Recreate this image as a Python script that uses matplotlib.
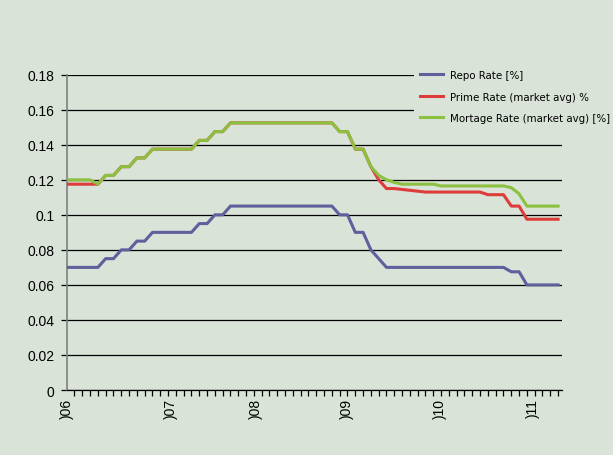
import matplotlib
matplotlib.use("Agg")
import matplotlib.pyplot as plt
from matplotlib import font_manager
from matplotlib.font_manager import FontProperties
import numpy as np

# ---- data ----
repo = ([0.07] * 5 + [0.075] * 2 + [0.08] * 2 + [0.085] * 2 + [0.09] * 6 +
        [0.095] * 2 + [0.10] * 2 + [0.105] * 14 + [0.10] * 2 + [0.09] * 2 +
        [0.08, 0.075] + [0.07] * 16 + [0.0675] * 2 + [0.06] * 5)
prime = ([0.1175] * 5 + [0.1225] * 2 + [0.1275] * 2 + [0.1325] * 2 + [0.1375] * 6 +
         [0.1425] * 2 + [0.1475] * 2 + [0.1525] * 14 + [0.1475] * 2 + [0.1375] * 2 +
         [0.1275, 0.12] + [0.115, 0.115, 0.1145, 0.114, 0.1135] + [0.113] * 8 +
         [0.1115] * 3 + [0.105] * 2 + [0.0975] * 5)
mortgage = ([0.12] * 4 + [0.1175] + [0.1225] * 2 + [0.1275] * 2 + [0.1325] * 2 + [0.1375] * 6 +
            [0.1425] * 2 + [0.1475] * 2 + [0.1525] * 14 + [0.1475] * 2 + [0.1375] * 2 +
            [0.1275, 0.1225, 0.12, 0.1185] + [0.1175] * 5 + [0.1165] * 9 +
            [0.1155, 0.112] + [0.105] * 5)
year_labels = [")06", ")07", ")08", ")09", ")10", ")11"]
year_label_pos = [0, 13.4, 24.2, 35.9, 47.9, 59.8]
series_names = ["Repo Rate [%]", "Prime Rate (market avg) %", "Mortage Rate (market avg) [%]"]

x = np.arange(len(repo))

has_cond = any("Condensed" in f.fname and "DejaVuSans" in f.fname
               for f in font_manager.fontManager.ttflist)
if has_cond:
    leg_prop = FontProperties(family="DejaVu Sans", stretch="condensed", size=8.2)
else:
    leg_prop = FontProperties(family="Liberation Sans", size=7.5)

bg = "#d9e3d7"
plt.rcParams["font.family"] = ["Liberation Sans", "DejaVu Sans"]

fig = plt.figure(figsize=(6.13, 4.56), dpi=100, facecolor=bg)
ax = fig.add_axes([0.1088, 0.1425, 0.9168 - 0.1088, 0.834 - 0.1425], facecolor=bg)

ax.plot(x, repo, color="#5f5f9c", lw=2.2, label=series_names[0], zorder=3)
ax.plot(x, prime, color="#de3b3b", lw=2.2, label=series_names[1], zorder=3)
ax.plot(x, mortgage, color="#8cc040", lw=2.2, label=series_names[2], zorder=4)

ax.set_ylim(0, 0.18)
ax.set_xlim(0, 63.5)
yt = np.arange(0, 0.181, 0.02)
ax.set_yticks(yt)
ax.set_yticklabels(["0", "0.02", "0.04", "0.06", "0.08", "0.1", "0.12", "0.14", "0.16", "0.18"])
ax.yaxis.grid(True, color="black", lw=0.9)
ax.set_axisbelow(True)

ax.set_xticks(year_label_pos)
ax.set_xticklabels(year_labels, rotation=90, fontsize=10)
ax.set_xticks(np.arange(0, 64), minor=True)
ax.tick_params(axis="x", which="major", length=0, pad=6)
ax.tick_params(axis="x", which="minor", length=4, width=0.9, color="black")
ax.tick_params(axis="y", length=4, width=0.9, color="black", labelsize=10, pad=5)

for s in ["top", "right"]:
    ax.spines[s].set_visible(False)
ax.spines["left"].set_color("#808080")
ax.spines["left"].set_linewidth(1.2)
ax.spines["bottom"].set_color("black")
ax.spines["bottom"].set_linewidth(0.9)

leg = ax.legend(loc="upper left", bbox_to_anchor=(0.69, 1.05), frameon=True,
                facecolor=bg, edgecolor=bg, framealpha=1, fancybox=False,
                prop=leg_prop, handlelength=2.05,
                handletextpad=0.6, labelspacing=1.0, borderpad=0.5)
leg.set_zorder(5)
leg.get_frame().set_linewidth(0)

fig.savefig("out.png", dpi=100, facecolor=bg)
